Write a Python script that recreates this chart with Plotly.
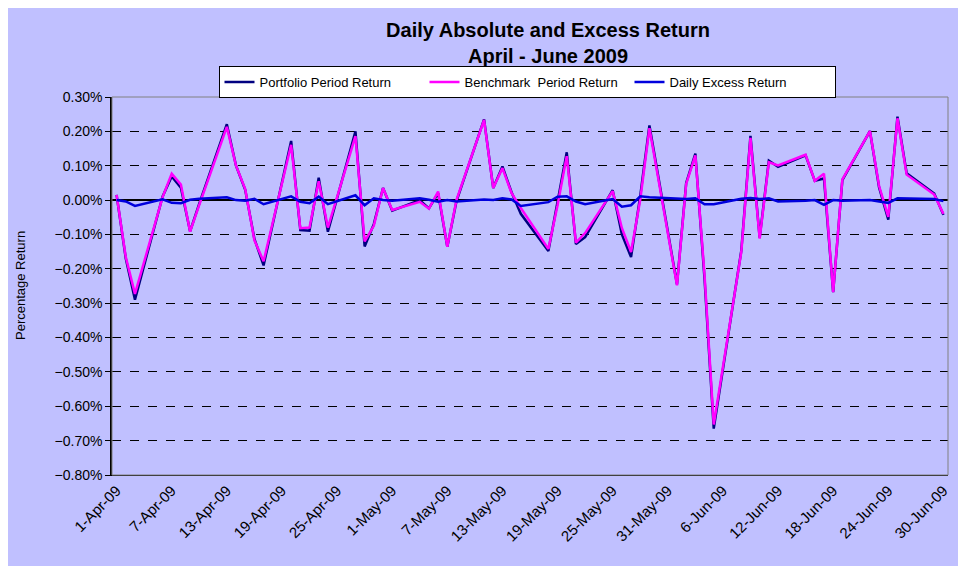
import plotly.graph_objects as go

# trading days, April - June 2009
dates = [
    "2009-04-01", "2009-04-02", "2009-04-03", "2009-04-06", "2009-04-07", "2009-04-08",
    "2009-04-09", "2009-04-10", "2009-04-13", "2009-04-14", "2009-04-15", "2009-04-16",
    "2009-04-17", "2009-04-20", "2009-04-21", "2009-04-22", "2009-04-23", "2009-04-24",
    "2009-04-27", "2009-04-28", "2009-04-29", "2009-04-30", "2009-05-01", "2009-05-04",
    "2009-05-05", "2009-05-06", "2009-05-07", "2009-05-08", "2009-05-11", "2009-05-12",
    "2009-05-13", "2009-05-14", "2009-05-15", "2009-05-18", "2009-05-19", "2009-05-20",
    "2009-05-21", "2009-05-22", "2009-05-25", "2009-05-26", "2009-05-27", "2009-05-28",
    "2009-05-29", "2009-06-01", "2009-06-02", "2009-06-03", "2009-06-04", "2009-06-05",
    "2009-06-08", "2009-06-09", "2009-06-10", "2009-06-11", "2009-06-12", "2009-06-15",
    "2009-06-16", "2009-06-17", "2009-06-18", "2009-06-19", "2009-06-22", "2009-06-23",
    "2009-06-24", "2009-06-25", "2009-06-26", "2009-06-29", "2009-06-30",
]

# returns in percent
portfolio = [
    0.015, -0.170, -0.290, 0.010, 0.069, 0.036,
    -0.091, -0.010, 0.221, 0.100, 0.030, -0.113,
    -0.190, 0.172, -0.087, -0.089, 0.065, -0.092,
    0.200, -0.135, -0.070, 0.035, -0.031, 0.000,
    -0.024, 0.020, -0.136, -0.003, 0.235, 0.035,
    0.098, 0.022, -0.040, -0.148, -0.005, 0.139,
    -0.128, -0.108, 0.029, -0.100, -0.166, 0.012,
    0.217, -0.245, 0.050, 0.135, -0.230, -0.665,
    -0.147, 0.187, -0.109, 0.115, 0.097, 0.130,
    0.056, 0.063, -0.268, 0.058, 0.201, 0.037,
    -0.057, 0.243, 0.078, 0.019, -0.043,
]

benchmark = [
    0.015, -0.166, -0.273, 0.008, 0.077, 0.045,
    -0.092, -0.014, 0.213, 0.100, 0.032, -0.117,
    -0.178, 0.161, -0.082, -0.080, 0.055, -0.080,
    0.186, -0.120, -0.075, 0.035, -0.029, -0.005,
    -0.025, 0.025, -0.136, 0.001, 0.233, 0.035,
    0.093, 0.020, -0.023, -0.142, -0.015, 0.128,
    -0.124, -0.096, 0.026, -0.081, -0.151, 0.001,
    0.209, -0.248, 0.047, 0.130, -0.218, -0.653,
    -0.151, 0.181, -0.112, 0.110, 0.101, 0.132,
    0.056, 0.077, -0.268, 0.060, 0.201, 0.041,
    -0.049, 0.238, 0.074, 0.016, -0.040,
]

excess = [
    0.000, -0.004, -0.017, 0.002, -0.008, -0.009,
    0.001, 0.004, 0.008, 0.000, -0.002, 0.004,
    -0.012, 0.011, -0.005, -0.009, 0.010, -0.012,
    0.014, -0.015, 0.005, 0.000, -0.002, 0.005,
    0.001, -0.005, 0.000, -0.004, 0.002, 0.000,
    0.005, 0.002, -0.017, -0.006, 0.010, 0.011,
    -0.004, -0.012, 0.003, -0.019, -0.015, 0.011,
    0.008, 0.003, 0.003, 0.005, -0.012, -0.012,
    0.004, 0.006, 0.003, 0.005, -0.004, -0.002,
    0.000, -0.014, 0.000, -0.002, 0.000, -0.004,
    -0.008, 0.005, 0.004, 0.003, -0.003,
]

tick_dates = [
    "2009-04-01", "2009-04-07", "2009-04-13", "2009-04-19", "2009-04-25", "2009-05-01",
    "2009-05-07", "2009-05-13", "2009-05-19", "2009-05-25", "2009-05-31", "2009-06-06",
    "2009-06-12", "2009-06-18", "2009-06-24", "2009-06-30",
]
tick_labels = [
    "1-Apr-09", "7-Apr-09", "13-Apr-09", "19-Apr-09", "25-Apr-09", "1-May-09",
    "7-May-09", "13-May-09", "19-May-09", "25-May-09", "31-May-09", "6-Jun-09",
    "12-Jun-09", "18-Jun-09", "24-Jun-09", "30-Jun-09",
]

font = "Arial, Liberation Sans, sans-serif"

fig = go.Figure()
fig.add_trace(go.Scatter(x=dates, y=portfolio, mode="lines", name="Portfolio Period Return",
                         line=dict(color="#000080", width=2.5)))
fig.add_trace(go.Scatter(x=dates, y=benchmark, mode="lines", name="Benchmark  Period Return",
                         line=dict(color="#FF00FF", width=2.5)))
fig.add_trace(go.Scatter(x=dates, y=excess, mode="lines", name="Daily Excess Return",
                         line=dict(color="#0000DD", width=2.5)))

# plot area: 836 x 378 px, starting 104 px from the left and 89 px from the top
PW, PH, L, T = 836, 378, 104, 89

# chart area background
fig.add_shape(type="rect", xref="paper", yref="paper", layer="below",
              x0=-L / PW, x1=(952 - L) / PW, y0=-(558 - T - PH) / PH, y1=1 + T / PH,
              fillcolor="#C0C0FF", line=dict(width=0))
# plot area border
fig.add_shape(type="rect", xref="paper", yref="paper", layer="above",
              x0=0, x1=1, y0=0, y1=1, line=dict(color="#808080", width=1))

fig.update_layout(
    width=966, height=572,
    margin=dict(l=L, r=966 - L - PW, t=T, b=572 - T - PH),
    paper_bgcolor="white",
    plot_bgcolor="white",
    font=dict(family=font, color="black", size=13),
    title=dict(text="<b>Daily Absolute and Excess Return<br>April - June 2009</b>",
               x=(548 - 112) / PW, xref="paper", xanchor="center",
               y=1 - 29 / 572, yanchor="top",
               font=dict(size=20, family=font, color="black")),
    legend=dict(orientation="h", x=(527 - 112) / PW, xanchor="center",
                y=1 + 31 / PH, yanchor="top",
                bgcolor="white", bordercolor="black", borderwidth=1,
                font=dict(size=13, family=font), entrywidth=160, entrywidthmode="pixels"),
    showlegend=True,
)

fig.update_xaxes(
    type="date",
    range=["2009-03-31 12:00", "2009-06-30 12:00"],
    tickvals=tick_dates, ticktext=tick_labels,
    tickangle=-45, tickfont=dict(size=15),
    showgrid=False, showline=True, linecolor="black", linewidth=1,
    ticks="", zeroline=False,
)
fig.update_yaxes(
    range=[-0.8, 0.3], dtick=0.1, tick0=0,
    tickformat=".2f", ticksuffix="%",
    showgrid=True, gridcolor="black", gridwidth=1, griddash="dash",
    zeroline=True, zerolinecolor="black", zerolinewidth=1.5,
    showline=True, linecolor="black", linewidth=1.5,
    ticks="outside", ticklen=5, tickcolor="black",
    tickfont=dict(size=14),
)

fig.add_annotation(text="Percentage Return", xref="paper", yref="paper",
                   x=(20 - 112) / PW, y=0.5, xanchor="center", yanchor="middle",
                   textangle=-90, showarrow=False,
                   font=dict(size=13, family=font))

fig.write_html("out.html")
